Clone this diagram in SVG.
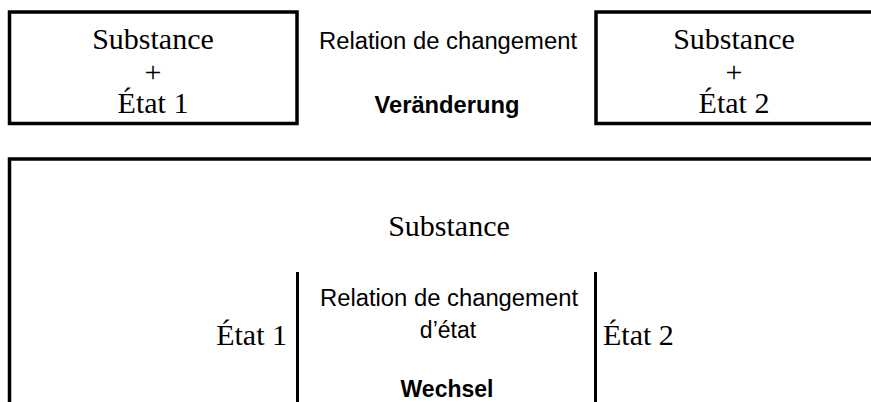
<svg xmlns="http://www.w3.org/2000/svg" width="871" height="402" viewBox="0 0 871 402">
<style>
.box{fill:#fff;stroke:#000;stroke-width:3.5}
.sep{stroke:#000;stroke-width:3}
.serif{font-family:"Liberation Serif","Times New Roman",serif;font-size:30px;fill:#000;text-anchor:middle}
.sans{font-family:"Liberation Sans",Arial,sans-serif;font-size:23px;fill:#000;text-anchor:middle}
.bold{font-weight:bold}
</style>
<rect width="871" height="402" fill="#fff"/>
<g id="state1-box">
<rect class="box" x="9.5" y="12" width="287.5" height="111.5"/>
<text class="serif" x="153" y="49">Substance</text>
<text class="serif" x="153" y="82">+</text>
<text class="serif" x="153" y="113">État 1</text>
</g>
<g id="change-relation">
<text class="sans" x="448" y="49" textLength="258" lengthAdjust="spacingAndGlyphs">Relation de changement</text>
<text class="sans bold" x="447" y="113" textLength="145" lengthAdjust="spacingAndGlyphs">Veränderung</text>
</g>
<g id="state2-box">
<rect class="box" x="596" y="12" width="278" height="111.5"/>
<text class="serif" x="734" y="49">Substance</text>
<text class="serif" x="734" y="82">+</text>
<text class="serif" x="734" y="113">État 2</text>
</g>
<g id="substance-box">
<rect class="box" x="9.5" y="159" width="866" height="250"/>
<text class="serif" x="449" y="236">Substance</text>
</g>
<g id="connectors">
<line class="sep" x1="297.5" y1="272" x2="297.5" y2="405"/>
<line class="sep" x1="595.5" y1="272" x2="595.5" y2="405"/>
</g>
<g id="state1">
<text class="serif" x="287" y="345" style="text-anchor:end">État 1</text>
</g>
<g id="state-change-relation">
<text class="sans" x="449" y="306" textLength="258" lengthAdjust="spacingAndGlyphs">Relation de changement</text>
<text class="sans" x="448" y="338">d’état</text>
<text class="sans bold" x="447" y="397">Wechsel</text>
</g>
<g id="state2">
<text class="serif" x="603" y="345" style="text-anchor:start">État 2</text>
</g>
</svg>
